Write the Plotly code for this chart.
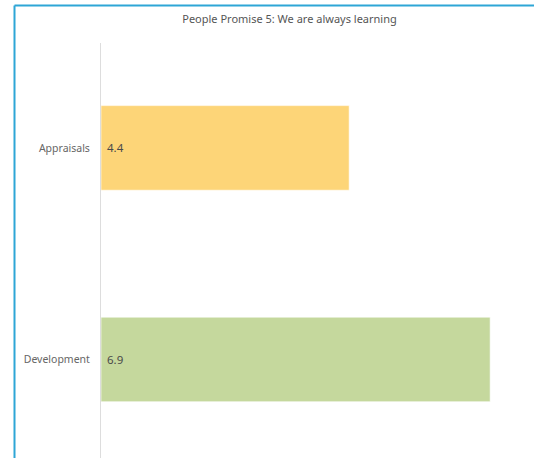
import plotly.graph_objects as go

# Survey theme scores
categories = ["Appraisals", "Development"]
scores = [4.4, 6.9]
bar_colors = ["#FDD578", "#C5D89D"]
title_text = "People Promise 5: We are always learning"

W, H = 534, 458
L, R, T, B = 101, 10, 43, 0

fig = go.Figure(
    go.Bar(
        y=categories,
        x=scores,
        orientation="h",
        width=0.4,
        marker=dict(color=bar_colors, line=dict(color="rgba(255,255,255,0.6)", width=1)),
        text=[f"\u00a0{v:.1f}" for v in scores],
        textposition="inside",
        insidetextanchor="start",
        textfont=dict(family="Noto Sans", size=11.5, color="#4a4a4a"),
        hoverinfo="skip",
    )
)

# helpers to place the outer frame in pixel terms
pw, ph = W - L - R, H - T - B
def px_x(x):
    return (x - L) / pw
def px_y(y):
    return (H - B - y) / ph

frame = dict(color="#2EA6D6", width=2)
fig.add_shape(type="line", xref="paper", yref="paper",
              x0=px_x(14.5), x1=px_x(W + 5), y0=px_y(5.5), y1=px_y(5.5), line=frame)
fig.add_shape(type="line", xref="paper", yref="paper",
              x0=px_x(14.5), x1=px_x(14.5), y0=px_y(5.5), y1=px_y(H + 5), line=frame)

fig.update_layout(
    width=W,
    height=H,
    margin=dict(l=L, r=R, t=T, b=B, pad=0),
    paper_bgcolor="white",
    plot_bgcolor="white",
    showlegend=False,
    title=dict(
        text=title_text,
        x=289.5 / W,
        xanchor="center",
        y=1 - 19 / H,
        yanchor="middle",
        font=dict(family="Noto Sans", size=11, color="#555555"),
    ),
    xaxis=dict(
        range=[0, 7.5],
        showgrid=False,
        zeroline=False,
        showticklabels=False,
        showline=False,
        fixedrange=True,
    ),
    yaxis=dict(
        range=[1.466, -0.496],
        showgrid=False,
        zeroline=False,
        showline=True,
        linecolor="#dddddd",
        linewidth=1,
        ticks="",
        ticklabelstandoff=8,
        tickfont=dict(family="Noto Sans", size=10.5, color="#666666"),
        fixedrange=True,
    ),
)

fig.write_html("out.html")
